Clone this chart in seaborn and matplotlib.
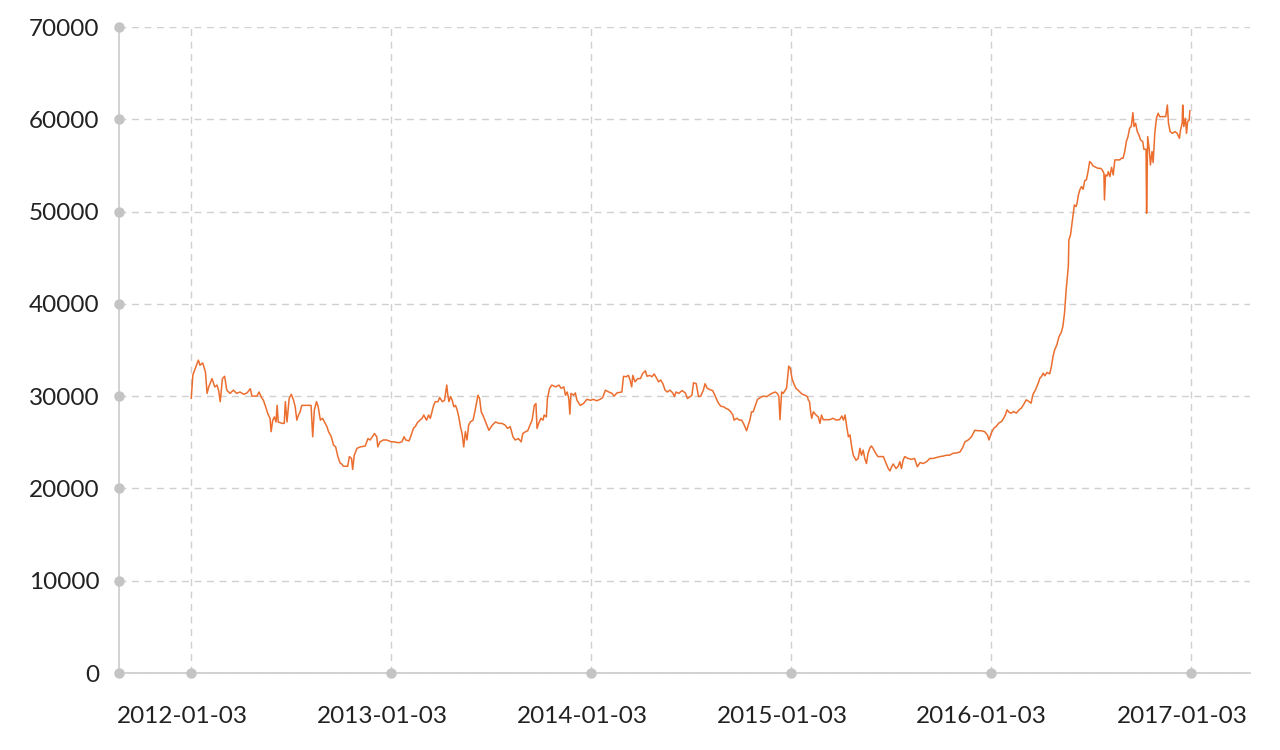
import pandas as pd
import matplotlib
matplotlib.use("Agg")
import matplotlib.pyplot as plt
import matplotlib.transforms as mtransforms
import seaborn as sns

# ---- data ----
dates_2012 = ["2012-01-03","2012-01-06","2012-01-16","2012-01-19","2012-01-24","2012-01-29","2012-02-01","2012-02-04",
    "2012-02-10","2012-02-15","2012-02-19","2012-02-22","2012-02-25","2012-02-29","2012-03-04","2012-03-08",
    "2012-03-14","2012-03-20","2012-03-26","2012-04-01","2012-04-08","2012-04-14","2012-04-20","2012-04-23",
    "2012-05-02","2012-05-06","2012-05-10","2012-05-14","2012-05-18","2012-05-22","2012-05-26","2012-05-28",
    "2012-05-31","2012-06-03","2012-06-06","2012-06-08","2012-06-10","2012-06-17","2012-06-21","2012-06-23",
    "2012-06-26","2012-06-30","2012-07-04","2012-07-08","2012-07-11","2012-07-14","2012-07-17","2012-07-20",
    "2012-07-23","2012-08-01","2012-08-09","2012-08-12","2012-08-15","2012-08-19","2012-08-22","2012-08-26",
    "2012-08-30","2012-09-04","2012-09-07","2012-09-10","2012-09-15","2012-09-19","2012-09-23","2012-09-27",
    "2012-10-01","2012-10-04","2012-10-07","2012-10-15","2012-10-18","2012-10-22","2012-10-24","2012-10-27",
    "2012-11-01","2012-11-07","2012-11-16","2012-11-21","2012-11-25","2012-11-29","2012-12-03","2012-12-07",
    "2012-12-09","2012-12-13","2012-12-19","2012-12-25"]
values_2012 = [29750,32300,33900,33350,33600,32600,30300,31000,
    31900,31000,31200,30650,29400,31900,32150,30650,
    30300,30650,30300,30450,30200,30350,30800,30000,
    30000,30450,29900,29550,28850,28100,27600,26150,
    27400,27750,27200,29000,27200,27050,27050,29400,
    27200,29750,30200,29550,28850,27400,27950,28300,
    29000,29000,29000,25600,28500,29400,28850,27400,
    27600,27050,26700,26150,25600,24700,24500,23450,
    22750,22650,22400,22400,23450,23250,22050,23600,
    24350,24500,24600,25400,25250,25600,25950,25600,
    24500,25050,25250,25250]

dates_2013 = ["2013-01-03","2013-01-07","2013-01-16","2013-01-22","2013-01-26","2013-01-29","2013-02-04","2013-02-07",
    "2013-02-12","2013-02-16","2013-02-19","2013-02-24","2013-02-28","2013-03-03","2013-03-08","2013-03-12",
    "2013-03-15","2013-03-18","2013-03-21","2013-03-24","2013-03-29","2013-04-01","2013-04-06","2013-04-10",
    "2013-04-14","2013-04-16","2013-04-18","2013-04-21","2013-04-24","2013-04-27","2013-04-30","2013-05-03",
    "2013-05-06","2013-05-09","2013-05-12","2013-05-15","2013-05-18","2013-05-21","2013-05-24","2013-05-27",
    "2013-06-01","2013-06-05","2013-06-10","2013-06-13","2013-06-16","2013-06-19","2013-06-24","2013-06-30",
    "2013-07-06","2013-07-12","2013-07-18","2013-07-24","2013-07-30","2013-08-03","2013-08-08","2013-08-13",
    "2013-08-17","2013-08-23","2013-08-28","2013-08-31","2013-09-05","2013-09-09","2013-09-13","2013-09-17",
    "2013-09-21","2013-09-24","2013-09-26","2013-09-29","2013-10-03","2013-10-07","2013-10-09","2013-10-13",
    "2013-10-15","2013-10-19","2013-10-23","2013-10-30","2013-11-05","2013-11-09","2013-11-14","2013-11-17",
    "2013-11-20","2013-11-23","2013-11-25","2013-11-27","2013-12-02","2013-12-05","2013-12-08","2013-12-14",
    "2013-12-20","2013-12-26"]
values_2013 = [25050,25050,24950,25050,25600,25250,25150,25600,
    26500,26750,27100,27400,27600,27950,27400,27950,
    27600,28300,29000,29400,29400,29850,29400,29550,
    31200,30100,29400,29950,29550,28850,29000,28500,
    27750,26700,25950,24500,26150,25250,26850,27200,
    27400,28500,30100,29750,28300,27950,27200,26300,
    26850,27200,27050,27050,26850,26500,26700,25600,
    25250,25400,25050,25950,26150,26250,26850,27400,
    29000,29200,26500,27050,27600,27400,27950,27750,
    29750,30850,31200,31000,31200,30850,31000,30100,
    30450,29750,28050,30300,30100,30350,29550,29000,
    29200,29650]

dates_2014 = ["2014-01-02","2014-01-07","2014-01-13","2014-01-19","2014-01-24","2014-01-29","2014-02-04","2014-02-10",
    "2014-02-14","2014-02-19","2014-02-28","2014-03-03","2014-03-08","2014-03-12","2014-03-15","2014-03-18",
    "2014-03-20","2014-03-24","2014-03-29","2014-04-03","2014-04-07","2014-04-12","2014-04-15","2014-04-20",
    "2014-04-24","2014-04-28","2014-05-03","2014-05-06","2014-05-10","2014-05-14","2014-05-18","2014-05-22",
    "2014-05-27","2014-06-01","2014-06-04","2014-06-07","2014-06-12","2014-06-18","2014-06-24","2014-06-28",
    "2014-07-03","2014-07-06","2014-07-09","2014-07-14","2014-07-18","2014-07-22","2014-07-27","2014-07-30",
    "2014-08-03","2014-08-08","2014-08-13","2014-08-17","2014-08-21","2014-08-24","2014-08-28","2014-09-02",
    "2014-09-07","2014-09-11","2014-09-15","2014-09-19","2014-09-21","2014-09-26","2014-10-01","2014-10-05",
    "2014-10-09","2014-10-14","2014-10-17","2014-10-20","2014-10-23","2014-10-26","2014-10-30","2014-11-03",
    "2014-11-08","2014-11-13","2014-11-20","2014-11-26","2014-12-01","2014-12-05","2014-12-09","2014-12-12",
    "2014-12-14","2014-12-17","2014-12-20","2014-12-23","2014-12-26","2014-12-30"]
values_2014 = [29550,29650,29500,29650,29850,30650,30450,30300,
    30000,30350,30450,32150,32100,32250,31750,31000,
    32250,31550,31900,31900,32450,32750,32150,32250,
    32100,32400,31900,31550,31750,31350,30650,30450,
    30650,30350,29950,30450,30300,30600,30350,29750,
    29950,30100,31450,31350,29950,30000,30650,31350,
    30850,30700,30600,30100,29550,29200,28900,28850,
    28650,28550,28300,27950,27400,27600,27400,27400,
    26950,26250,26850,27400,28300,28300,29000,29650,
    29850,30000,29950,30200,30350,30450,30300,29950,
    27450,30450,30300,30600,30850,33250]

dates_2015 = ["2015-01-02","2015-01-05","2015-01-07","2015-01-12","2015-01-16","2015-01-21","2015-01-24","2015-01-29",
    "2015-02-02","2015-02-04","2015-02-06","2015-02-08","2015-02-10","2015-02-13","2015-02-18","2015-02-22",
    "2015-02-25","2015-02-28","2015-03-03","2015-03-09","2015-03-15","2015-03-21","2015-03-27","2015-04-02",
    "2015-04-06","2015-04-09","2015-04-12","2015-04-15","2015-04-18","2015-04-21","2015-04-24","2015-04-27",
    "2015-05-02","2015-05-06","2015-05-09","2015-05-12","2015-05-15","2015-05-18","2015-05-21","2015-05-24",
    "2015-05-27","2015-05-30","2015-06-02","2015-06-07","2015-06-11","2015-06-21","2015-06-26","2015-06-30",
    "2015-07-03","2015-07-06","2015-07-09","2015-07-14","2015-07-18","2015-07-21","2015-07-24","2015-07-27",
    "2015-07-30","2015-08-05","2015-08-11","2015-08-17","2015-08-22","2015-08-27","2015-09-02","2015-09-08",
    "2015-09-14","2015-09-20","2015-09-26","2015-10-02","2015-10-08","2015-10-14","2015-10-20","2015-10-26",
    "2015-11-02","2015-11-08","2015-11-13","2015-11-17","2015-11-23","2015-11-29","2015-12-05","2015-12-11",
    "2015-12-17","2015-12-23","2015-12-28","2015-12-31"]
values_2015 = [33000,31900,31550,30850,30650,30350,30200,30100,
    29950,29550,29400,28300,27600,28300,27950,27750,
    27050,27950,27450,27450,27450,27600,27400,27450,
    27850,27400,27950,26700,25600,25800,24500,23600,
    23050,23250,24350,23600,24150,23250,22700,23800,
    24350,24600,24350,23800,23450,23450,22700,22150,
    21900,22350,22650,22150,22400,22900,22150,23050,
    23450,23250,23150,23250,22350,22800,22700,22900,
    23250,23250,23350,23450,23500,23600,23600,23800,
    23850,23950,24450,25050,25250,25600,26300,26250,
    26250,26150,25800,25250]

dates_2016 = ["2016-01-04","2016-01-09","2016-01-13","2016-01-18","2016-01-23","2016-01-27","2016-01-30","2016-02-02",
    "2016-02-06","2016-02-10","2016-02-14","2016-02-19","2016-02-24","2016-02-28","2016-03-03","2016-03-08",
    "2016-03-13","2016-03-17","2016-03-20","2016-03-25","2016-03-30","2016-04-02","2016-04-05","2016-04-08",
    "2016-04-11","2016-04-15","2016-04-20","2016-04-23","2016-04-26","2016-04-29","2016-05-03","2016-05-07",
    "2016-05-11","2016-05-14","2016-05-17","2016-05-20","2016-05-24","2016-05-25","2016-05-28","2016-05-30",
    "2016-06-02","2016-06-04","2016-06-07","2016-06-09","2016-06-11","2016-06-14","2016-06-17","2016-06-20",
    "2016-06-23","2016-06-26","2016-06-29","2016-07-02","2016-07-05","2016-07-08","2016-07-13","2016-07-17",
    "2016-07-22","2016-07-25","2016-07-28","2016-07-29","2016-07-31","2016-08-03","2016-08-05","2016-08-08",
    "2016-08-11","2016-08-14","2016-08-17","2016-08-21","2016-08-26","2016-08-29","2016-09-01","2016-09-04",
    "2016-09-07","2016-09-10","2016-09-13","2016-09-16","2016-09-19","2016-09-21","2016-09-24","2016-09-27",
    "2016-09-30","2016-10-03","2016-10-07","2016-10-09","2016-10-13","2016-10-14","2016-10-16","2016-10-19",
    "2016-10-21","2016-10-24","2016-10-26","2016-10-29","2016-11-01","2016-11-04","2016-11-07","2016-11-13",
    "2016-11-18","2016-11-21","2016-11-23","2016-11-26","2016-11-30","2016-12-05","2016-12-09","2016-12-13",
    "2016-12-15","2016-12-18","2016-12-19","2016-12-21","2016-12-24","2016-12-26","2016-12-28","2016-12-31",
    "2017-01-01"]
values_2016 = [25990,26540,26720,27080,27260,27620,27980,28520,
    28230,28160,28340,28160,28520,28700,29060,29600,
    29420,29240,30140,30690,31410,31950,32130,32490,
    32200,32560,32420,33210,34300,35020,35560,36460,
    36900,37550,38990,41520,44040,46930,47470,48380,
    49820,50720,50540,50900,51700,52350,52710,52420,
    53360,53430,54330,55420,55240,54950,54800,54690,
    54690,54510,54150,51260,53970,53860,54330,53790,
    54800,53970,55600,55600,55600,55780,55780,56500,
    57580,58120,59030,59210,60720,59210,59570,58660,
    58300,57760,57580,56750,56750,49820,58120,56680,
    55050,56500,55310,58480,60110,60650,60290,60290,
    60290,61550,59570,58660,58480,58660,58480,57940,
    58840,59570,61550,59210,60110,58480,59750,59930,
    60940]

tick_labels = ["2012-01-03", "2013-01-03", "2014-01-03", "2015-01-03", "2016-01-03", "2017-01-03"]
y_ticks = [0, 10000, 20000, 30000, 40000, 50000, 60000, 70000]

# ---- build table ----
df = pd.DataFrame({
    "date": pd.to_datetime(dates_2012 + dates_2013 + dates_2014 + dates_2015 + dates_2016),
    "value": values_2012 + values_2013 + values_2014 + values_2015 + values_2016,
})

sns.set_theme(style="white")
plt.rcParams["font.family"] = ["Lato", "DejaVu Sans"]

LINE = "#EB6E2F"
GRID = "#d0d0d0"
AXIS = "#cfcfcf"
DOT = "#c4c4c4"
TEXT = "#222222"

fig = plt.figure(figsize=(12.8, 7.5), dpi=100)
ax = fig.add_axes([119 / 1280, 1 - 673 / 750, (1250 - 119) / 1280, (673 - 27) / 750])

sns.lineplot(data=df, x="date", y="value", ax=ax, color=LINE, linewidth=1.1, estimator=None, zorder=3)

ax.set_ylim(0, 70000)
ax.set_xlim(pd.Timestamp("2011-08-24"), pd.Timestamp("2017-04-21"))
ax.set_xlabel("")
ax.set_ylabel("")

x_tick_pos = pd.to_datetime(tick_labels)
ax.set_yticks(y_ticks)
ax.set_yticklabels([str(v) for v in y_ticks])
ax.set_xticks(x_tick_pos)
ax.set_xticklabels(tick_labels)

ax.grid(True, color=GRID, linestyle=(0, (5, 4)), linewidth=1.0)
ax.set_axisbelow(True)

for s in ["top", "right"]:
    ax.spines[s].set_visible(False)
for s in ["left", "bottom"]:
    ax.spines[s].set_color(AXIS)
    ax.spines[s].set_linewidth(1.3)

ax.tick_params(axis="y", length=0, pad=14, labelsize=17.5, labelcolor=TEXT)
ax.tick_params(axis="x", length=0, pad=24, labelsize=17.5, labelcolor=TEXT)

# x labels sit slightly left of their ticks in the reference
shift = mtransforms.ScaledTranslation(-9 / 100, 0, fig.dpi_scale_trans)
for lbl in ax.get_xticklabels():
    lbl.set_transform(lbl.get_transform() + shift)

# round dots on the axis lines at every tick
ax.plot([0] * len(y_ticks), y_ticks, "o", color=DOT, markersize=6.5,
        transform=ax.get_yaxis_transform(), clip_on=False, zorder=4)
ax.plot(x_tick_pos, [0] * len(x_tick_pos), "o", color=DOT, markersize=6.5,
        transform=ax.get_xaxis_transform(), clip_on=False, zorder=4)

fig.savefig("out.png", dpi=100, facecolor="white")
